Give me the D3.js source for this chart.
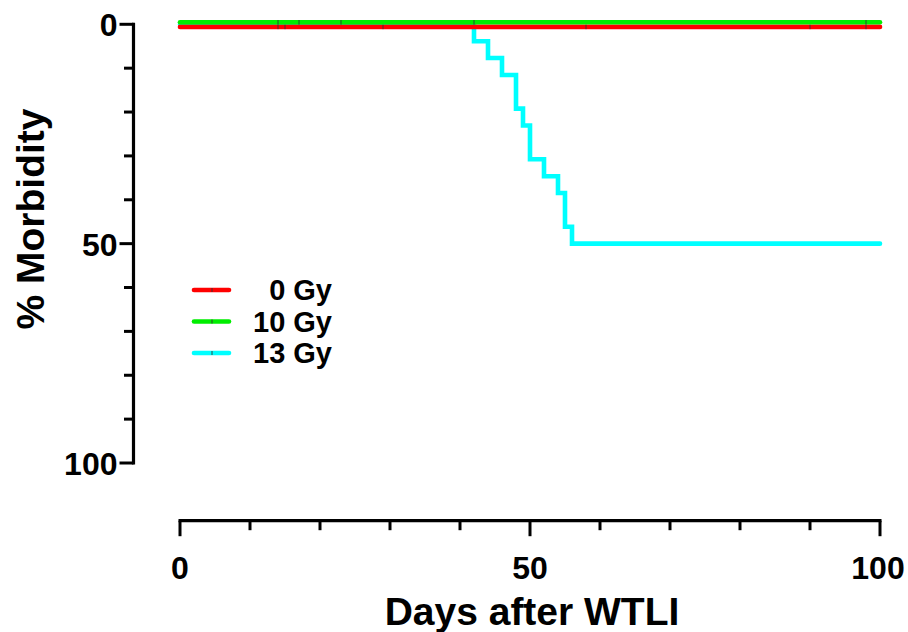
<!DOCTYPE html>
<html>
<head>
<meta charset="utf-8">
<script src="https://cdn.jsdelivr.net/npm/d3@7/dist/d3.min.js"></script>
<style>
  html, body { margin: 0; padding: 0; background: #fff; }
  svg { display: block; font-family: "Liberation Sans", Arial, Helvetica, sans-serif; font-weight: bold; }
</style>
</head>
<body>
<svg id="chart" width="908" height="632"></svg>
<script>
// ---- data ----
const seriesNames = ["0 Gy", "10 Gy", "13 Gy"];
const seriesColors = ["#ff0000", "#00ee00", "#00ffff"];
// Kaplan-Meier style step data: [day, % morbidity]
const red0Gy = [[0, 0], [100, 0]];
const green10Gy = [[0, 0], [100, 0]];
const cyan13Gy = [[0, 0], [42, 3.85], [44, 7.69], [46, 11.54], [48, 19.23], [49, 23.08], [50, 30.77], [52, 34.62], [54, 38.46], [55, 46.15], [56, 50], [100, 50]];
// censor marks (days)
const red0GyCensor = [14, 15, 29, 58, 90, 98];
const green10GyCensor = [14, 17, 23, 42, 98];
const xTicks = [0, 10, 20, 30, 40, 50, 60, 70, 80, 90, 100];
const xTickLabels = [0, 50, 100];
const yTicks = [0, 10, 20, 30, 40, 50, 60, 70, 80, 90, 100];
const yTickLabels = [0, 50, 100];
const xTitle = "Days after WTLI";
const yTitle = "% Morbidity";

// ---- scales ----
const svg = d3.select("#chart");
const x = d3.scaleLinear().domain([0, 100]).range([180, 880]);
const y = d3.scaleLinear().domain([0, 100]).range([24.3, 463]);

// ---- axes ----
const xAxisY = 520.7, yAxisX = 133.5;

const xg = svg.append("g").attr("transform", `translate(0,${xAxisY})`);
xg.append("line").attr("x1", x(0) - 1.5).attr("x2", x(100) + 1.5).attr("y1", 0).attr("y2", 0)
  .attr("stroke", "#000").attr("stroke-width", 3.2);
xg.selectAll("line.tick").data(xTicks).join("line").attr("class", "tick")
  .attr("x1", d => x(d)).attr("x2", d => x(d)).attr("y1", 0)
  .attr("y2", d => xTickLabels.includes(d) ? 15.5 : 9.5)
  .attr("stroke", "#000").attr("stroke-width", 3);
xg.selectAll("text").data(xTickLabels).join("text")
  .attr("x", d => x(d) + (d === 100 ? -2 : 0)).attr("y", 58).attr("text-anchor", "middle")
  .attr("font-size", 32).text(d => d);

const yg = svg.append("g").attr("transform", `translate(${yAxisX},0)`);
yg.append("line").attr("x1", 0).attr("x2", 0).attr("y1", y(0) - 1.5).attr("y2", y(100) + 1.5)
  .attr("stroke", "#000").attr("stroke-width", 3.2);
yg.selectAll("line.tick").data(yTicks).join("line").attr("class", "tick")
  .attr("y1", d => y(d)).attr("y2", d => y(d)).attr("x1", 0)
  .attr("x2", d => yTickLabels.includes(d) ? -14 : -9.5)
  .attr("stroke", "#000").attr("stroke-width", 3);
yg.selectAll("text").data(yTickLabels).join("text")
  .attr("x", -16).attr("y", d => y(d) + 12).attr("text-anchor", "end")
  .attr("font-size", 32).text(d => d);

// axis titles
svg.append("text").attr("x", 532).attr("y", 625).attr("text-anchor", "middle")
  .attr("font-size", 39).text(xTitle);
svg.append("text").attr("transform", "translate(44,219) rotate(-90)").attr("text-anchor", "middle")
  .attr("font-size", 39).text(yTitle);

// ---- lines ----
const line = (off) => d3.line().x(d => x(d[0])).y(d => y(d[1]) + off).curve(d3.curveStepAfter);
const series = [
  { data: cyan13Gy, color: seriesColors[2], off: 0, censor: [] },
  { data: red0Gy, color: seriesColors[0], off: 2.6, censor: red0GyCensor },
  { data: green10Gy, color: seriesColors[1], off: -2, censor: green10GyCensor }
];
series.forEach(s => {
  svg.append("path").attr("d", line(s.off)(s.data)).attr("fill", "none")
    .attr("stroke", s.color).attr("stroke-width", 4.6).attr("stroke-linecap", "round")
    .attr("stroke-linejoin", "miter");
  svg.selectAll(null).data(s.censor).join("line")
    .attr("x1", d => x(d)).attr("x2", d => x(d))
    .attr("y1", y(0) + s.off - 2.3).attr("y2", y(0) + s.off + 2.3)
    .attr("stroke", "#333").attr("stroke-width", 0.9);
});

// ---- legend ----
const legY = [290, 321.5, 353];
const legOrder = [0, 1, 2];
legOrder.forEach((i, k) => {
  const g = svg.append("g");
  g.append("line").attr("x1", 194).attr("x2", 229).attr("y1", legY[k]).attr("y2", legY[k])
    .attr("stroke", seriesColors[i]).attr("stroke-width", 4.6).attr("stroke-linecap", "round");
  g.append("line").attr("x1", 212).attr("x2", 212).attr("y1", legY[k] - 2).attr("y2", legY[k] + 2)
    .attr("stroke", "#333").attr("stroke-width", 0.9);
  g.append("text").attr("x", 332).attr("y", legY[k] + 10).attr("text-anchor", "end")
    .attr("font-size", 29).text(seriesNames[i]);
});
</script>
</body>
</html>
